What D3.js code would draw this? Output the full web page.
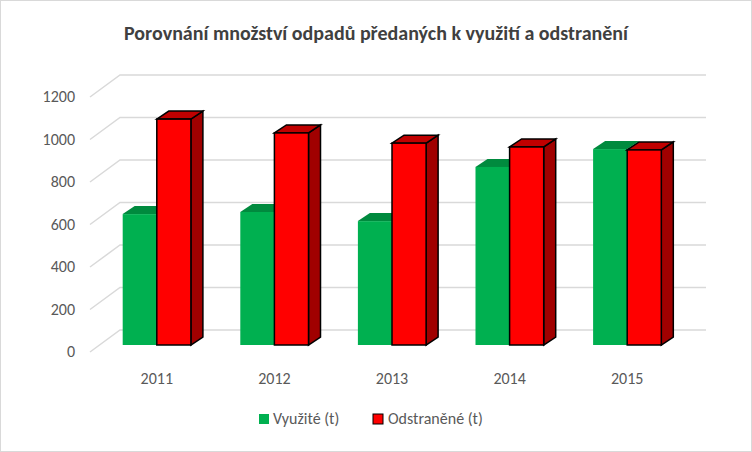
<!DOCTYPE html>
<html><head><meta charset="utf-8">
<script src="https://cdn.jsdelivr.net/npm/d3@7"></script>
<style>body{margin:0;background:#fff}svg{font-family:Carlito,Calibri,"Open Sans",sans-serif}</style>
</head><body>
<svg width="752" height="452"></svg>
<script>
const years = ["2011", "2012", "2013", "2014", "2015"]
const vyuzite = [616, 626, 583, 838, 922]
const odstranene = [1063, 998, 950, 932, 918]
const ticks = [0, 200, 400, 600, 800, 1000, 1200]

const svg = d3.select("svg")
svg.append("rect").attr("x", 0.5).attr("y", 0.5).attr("width", 751).attr("height", 451)
    .attr("fill", "#fff").attr("stroke", "#d9d9d9")

svg.append("text").attr("x", 376).attr("y", 40).attr("text-anchor", "middle")
    .attr("font-size", 20).attr("font-weight", "bold").attr("fill", "#404040")
    .text("Porovnání  množství odpadů předaných k využití a odstranění")

// back wall scale and front (bar) scale
const yBack = d3.scaleLinear().domain([0, 1200]).range([330, 75])
const yFront = d3.scaleLinear().domain([0, 1200]).range([345, 90])
const x = d3.scaleBand().domain(years).range([98, 686]).paddingInner(0.42).paddingOuter(0.21)
const wdx = 30, wdy = 22   // wall depth
const bdx = 12, bdy = 8    // bar depth

const grid = svg.append("g")
ticks.forEach(t => {
    const yb = yBack(t)
    grid.append("path").attr("d", `M${120 - wdx},${yb + wdy}L120,${yb}L706,${yb}`)
        .attr("fill", "none").attr("stroke", "#d9d9d9").attr("stroke-width", 1.5)
    svg.append("text").attr("x", 75).attr("y", yb + wdy + 5).attr("text-anchor", "end")
        .attr("font-size", 16).attr("fill", "#595959").text(t)
})

function bar(g, x0, w, v, c) {
    const y0 = yFront(0), y1 = yFront(v)
    g.append("path").attr("d", `M${x0 + w},${y1}L${x0 + w + bdx},${y1 - bdy}L${x0 + w + bdx},${y0 - bdy}L${x0 + w},${y0}Z`)
        .attr("fill", c.side).attr("stroke", c.stroke).attr("stroke-width", c.sw)
    g.append("path").attr("d", `M${x0},${y1}L${x0 + bdx},${y1 - bdy}L${x0 + w + bdx},${y1 - bdy}L${x0 + w},${y1}Z`)
        .attr("fill", c.top).attr("stroke", c.stroke).attr("stroke-width", c.sw)
    g.append("rect").attr("x", x0).attr("y", y1).attr("width", w).attr("height", y0 - y1)
        .attr("fill", c.front).attr("stroke", c.stroke).attr("stroke-width", c.sw)
}
const green = { front: "#00b050", top: "#008a3e", side: "#007a36", stroke: "none", sw: 0 }
const red = { front: "#ff0000", top: "#c00000", side: "#a00000", stroke: "#000", sw: 1.5 }

const bars = svg.append("g")
years.forEach((yr, i) => {
    const bw = x.bandwidth() / 2
    bar(bars, x(yr), bw, vyuzite[i], green)
    bar(bars, x(yr) + bw, bw, odstranene[i], red)
    svg.append("text").attr("x", x(yr) + bw).attr("y", 384).attr("text-anchor", "middle")
        .attr("font-size", 16).attr("fill", "#595959").text(yr)
})

const legend = svg.append("g").attr("font-size", 16).attr("fill", "#595959")
legend.append("rect").attr("x", 259).attr("y", 414).attr("width", 10).attr("height", 10).attr("fill", "#00b050")
legend.append("text").attr("x", 273).attr("y", 424).attr("fill", "#595959").text("Využité (t)")
legend.append("rect").attr("x", 373).attr("y", 414).attr("width", 10).attr("height", 10)
    .attr("fill", "#ff0000").attr("stroke", "#000")
legend.append("text").attr("x", 388).attr("y", 424).attr("fill", "#595959").text("Odstraněné (t)")
</script>
</body></html>
